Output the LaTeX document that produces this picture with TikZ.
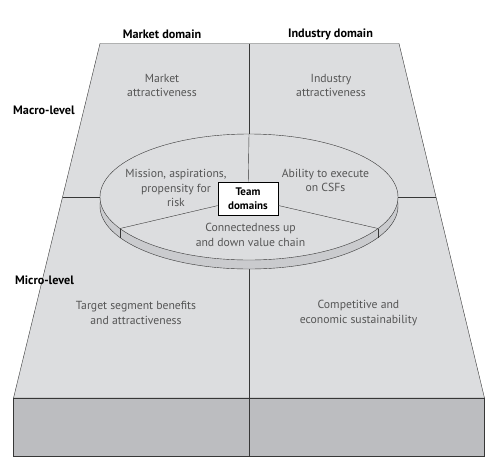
\documentclass[tikz,border=0pt]{standalone}
\usepackage{fontspec}
\setmainfont{PT Sans}
\usetikzlibrary{calc}
\begin{document}
\begin{tikzpicture}[x=1pt,y=-1pt,font=\fontsize{11.7}{14.6}\selectfont,
  area/.style={text=areatext,align=center},
  outer/.style={font=\fontsize{12.2}{14}\selectfont\bfseries}]
\definecolor{facegray}{RGB}{220,221,223}
\definecolor{boxgray}{RGB}{188,189,192}
\definecolor{rimgray}{RGB}{202,203,206}
\definecolor{areatext}{RGB}{85,85,85}
\definecolor{edge}{RGB}{55,55,55}
\useasboundingbox (0,0) rectangle (492,469);
\coordinate (tl) at (100,43.5);
\coordinate (tr) at (399,43.5);
\coordinate (bl) at (13.5,398);
\coordinate (br) at (484.5,398);
\coordinate (fl) at (13.5,456);
\coordinate (fr) at (484.5,456);
\draw[edge,fill=facegray] (tl)--(tr)--(br)--(bl)--cycle;
\draw[edge,fill=boxgray] (bl)--(br)--(fr)--(fl)--cycle;
\coordinate (ml) at ($(tl)!.433!(bl)$);
\coordinate (mr) at ($(tr)!.433!(br)$);
\coordinate (tm) at (249,43.5);
\coordinate (fm) at (249,456);
\draw[edge] (ml)--(mr);
\draw[edge] (tm)--(fm);
\coordinate (disk) at (249,197);
\coordinate (diskTop) at (249,134);
\coordinate (spokeL) at (120,228.5);
\coordinate (spokeR) at (378,228.5);
\draw[edge,fill=rimgray] ($(disk)+(0,9)$) ellipse[x radius=149pt,y radius=63pt];
\draw[edge,fill=facegray] (disk) ellipse[x radius=149pt,y radius=63pt];
\draw[edge] (spokeL)--++(0,9) (spokeR)--++(0,9);
\node[draw=black,fill=white,font=\fontsize{11}{14.5}\selectfont\bfseries,align=center,minimum width=60pt,minimum height=33pt,inner sep=1pt,line width=.8pt] (team) at (248,198.5) {Team\\domains};
\draw[edge] (diskTop)--(team);
\draw[edge] (team)--(spokeL);
\draw[edge] (team)--(spokeR);
\node[outer] (mdom) at (162,34) {Market domain};
\node[outer] (idom) at (330.5,34) {Industry domain};
\node[outer,anchor=west,inner sep=0pt] (macro) at (13,110) {Macro-level};
\node[outer,anchor=west,inner sep=0pt] (micro) at (15,280) {Micro-level};
\node[area] (mkt) at (162,85.5) {Market\\attractiveness};
\node[area] (ind) at (331,85.5) {Industry\\attractiveness};
\node[area] (mission) at (176,188) {Mission, aspirations,\\propensity for\\risk};
\node[area] (csf) at (325.5,180.5) {Ability to execute\\on CSFs};
\node[area] (chain) at (250.5,235) {Connectedness up\\and down value chain};
\node[area] (target) at (136,313) {Target segment benefits\\and attractiveness};
\node[area] (comp) at (358.5,313) {Competitive and\\economic sustainability};
\end{tikzpicture}
\end{document}
